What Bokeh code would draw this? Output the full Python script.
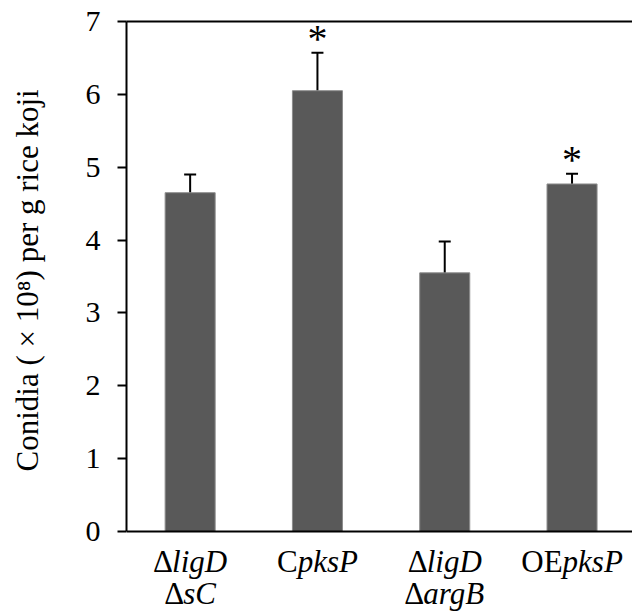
import math
from bokeh.plotting import figure
from bokeh.layouts import row
from bokeh.models import ColumnDataSource, Whisker, LinearAxis, FixedTicker, Range1d, Span
from bokeh.core.properties import value
from bokeh.embed import file_html
from bokeh.resources import INLINE

# data
positions = [0, 1, 2, 3]
means = [4.65, 6.05, 3.55, 4.77]
errors = [0.25, 0.52, 0.43, 0.14]
significant = [False, True, False, True]
# category label pieces: lines of (text, italic)
label_lines = [
    [[("\u0394", False), ("ligD", True)], [("\u0394", False), ("sC", True)]],
    [[("C", False), ("pksP", True)]],
    [[("\u0394", False), ("ligD", True)], [("\u0394", False), ("argB", True)]],
    [[("OE", False), ("pksP", True)]],
]
y_ticks = [0, 1, 2, 3, 4, 5, 6, 7]
y_label = "Conidia ( \u00d7 10\u2078) per g rice koji"

FONT = "Liberation Serif"
FS_TICK = 30
FS_X = 31
FS_YLAB = 31

# approximate Times advance widths (em)
W_REG = {"\u0394": 0.612, "C": 0.667, "O": 0.722, "E": 0.611}
W_IT = {"l": 0.278, "i": 0.278, "g": 0.5, "D": 0.722, "s": 0.389, "C": 0.667,
        "a": 0.5, "r": 0.389, "B": 0.611, "p": 0.5, "k": 0.444, "P": 0.611}

def width(text, italic):
    d = W_IT if italic else W_REG
    return sum(d.get(c, 0.5) for c in text) * FS_X

W, H = 632, 616
LABEL_W = 60
LEFT, TOP = 126, 21
ZERO_PX = 531                     # screen y of value 0
px_per_unit = (ZERO_PX - TOP) / 7
y_min = -(H - ZERO_PX) / px_per_unit   # frame extends below 0 to hold category labels

# ---- y-axis title strip ----
yl = figure(width=LABEL_W, height=H, output_backend="svg", toolbar_location=None,
            x_range=Range1d(0, LABEL_W), y_range=Range1d(0, H),
            x_axis_type=None, y_axis_type=None,
            min_border_left=0, min_border_right=0, min_border_top=0, min_border_bottom=0)
yl.outline_line_color = None
yl.grid.visible = False
yl.text(x=[27], y=[H - 268], text=[y_label], angle=math.pi / 2,
        text_font=value(FONT), text_font_size=f"{FS_YLAB}px", text_color="black",
        text_align="center", text_baseline="middle")

# ---- main chart ----
p = figure(width=W - LABEL_W, height=H, output_backend="svg", toolbar_location=None,
           x_range=Range1d(-0.5, 3.475), y_range=Range1d(y_min, 7),
           x_axis_location=None,
           min_border_left=LEFT - LABEL_W, min_border_right=0, min_border_top=TOP,
           min_border_bottom=0)
p.outline_line_color = None
p.grid.visible = False

src = ColumnDataSource(dict(
    x=positions, top=means,
    upper=[m + e for m, e in zip(means, errors)],
    lower=[m - e for m, e in zip(means, errors)],
))
p.vbar(x="x", top="top", width=0.393, bottom=0, source=src,
       fill_color="#595959", line_color="#8c8c8c", line_width=1)

w = Whisker(base="x", upper="upper", lower="lower", source=src,
            line_color="black", line_width=2)
for head in (w.upper_head, w.lower_head):
    head.size = 12
    head.line_width = 2
    head.line_color = "black"
p.add_layout(w)

sx = [x for x, s in zip(positions, significant) if s]
sy = [m + e for m, e, s in zip(means, errors, significant) if s]
p.text(x=sx, y=sy, text=["*"] * len(sx), text_font=value(FONT),
       text_font_size="40px", text_align="center", text_baseline="alphabetic",
       y_offset=-14, text_color="black")

# baseline (value 0)
p.add_layout(Span(location=0, dimension="width", line_color="black", line_width=2))

# y axis
yax = p.yaxis[0]
yax.bounds = (0, 7)
yax.ticker = FixedTicker(ticks=y_ticks)
yax.axis_line_width = 2
yax.axis_line_color = "black"
yax.major_tick_line_width = 2
yax.major_tick_line_color = "black"
yax.major_tick_out = 9
yax.major_tick_in = 0
yax.minor_tick_line_color = None
yax.major_label_text_font = FONT
yax.major_label_text_font_size = f"{FS_TICK}px"
yax.major_label_text_color = "black"
yax.major_label_standoff = 17

# top border line
top_ax = LinearAxis(ticker=FixedTicker(ticks=[]), axis_line_width=2, axis_line_color="black",
                    major_tick_line_color=None, minor_tick_line_color=None,
                    major_tick_out=0, major_tick_in=0, major_label_standoff=0,
                    major_label_text_font_size="0px")
p.add_layout(top_ax, "above")

# category labels (mixed upright / italic pieces), below the value-0 line
line_base = 30
line_gap = 32
for xpos, lines in zip(positions, label_lines):
    for li, pieces in enumerate(lines):
        total = sum(width(t, it) for t, it in pieces)
        cur = -total / 2
        for t, it in pieces:
            p.text(x=[xpos], y=[0], text=[t], x_offset=cur, y_offset=line_base + li * line_gap,
                   text_font=value(FONT), text_font_size=f"{FS_X}px",
                   text_font_style="italic" if it else "normal",
                   text_color="black", text_align="left", text_baseline="alphabetic")
            cur += width(t, it)

layout = row(yl, p, spacing=0)
open("out.html", "w").write(file_html(layout, INLINE))
